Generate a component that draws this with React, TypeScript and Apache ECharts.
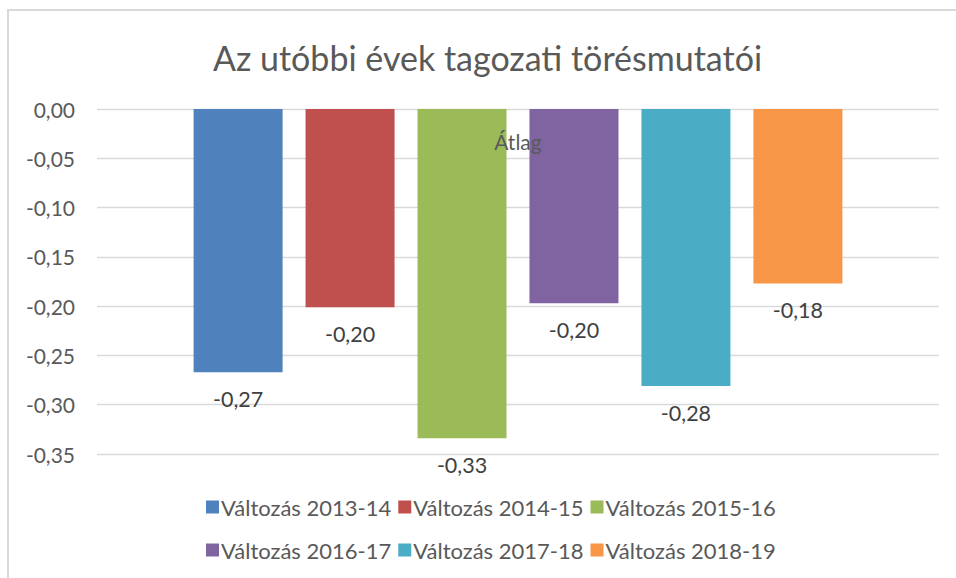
import React, { useEffect, useRef } from "react";
import * as echarts from "echarts";

const categories = ["Átlag"];
const seriesNames = [
  "Változás 2013-14",
  "Változás 2014-15",
  "Változás 2015-16",
  "Változás 2016-17",
  "Változás 2017-18",
  "Változás 2018-19",
];
const seriesValues = [-0.267, -0.201, -0.334, -0.197, -0.281, -0.177];
const seriesColors = ["#4f81bd", "#c0504d", "#9bbb59", "#8064a2", "#4bacc6", "#f79646"];
const titleText = "Az utóbbi évek tagozati törésmutatói";

const FONT = "Lato, 'Noto Sans', sans-serif";
const fmt = (v: number) => {
  const s = Math.abs(v) < 1e-9 ? "0,00" : v.toFixed(2).replace(".", ",");
  return s;
};

export default function App() {
  const ref = useRef<HTMLDivElement>(null);
  useEffect(() => {
    if (!ref.current) return;
    const chart = echarts.init(ref.current, null, { renderer: "svg" });
    const legendCommon = {
      orient: "horizontal" as const,
      itemWidth: 13,
      itemHeight: 13,
      itemGap: 7,
      icon: "rect",
      textStyle: {
        fontFamily: FONT,
        fontSize: 22,
        lineHeight: 22,
        color: "#595959",
        padding: [0, 0, 0, -3],
      },
      padding: 0,
    };
    chart.setOption({
      animation: false,
      backgroundColor: "#ffffff",
      graphic: [
        {
          type: "rect",
          shape: { x: 8, y: 10, width: 1200, height: 1000 },
          style: { fill: "none", stroke: "#d9d9d9", lineWidth: 2 },
          silent: true,
          z: -10,
        },
        {
          type: "text",
          x: 487.5,
          y: 57,
          style: {
            text: titleText,
            font: `34px ${FONT}`,
            fill: "#595959",
            textAlign: "center",
            textVerticalAlign: "middle",
          },
        },
      ],
      grid: { left: 97, right: 17, top: 109, bottom: 124, containLabel: false },
      xAxis: {
        type: "category",
        position: "top",
        data: categories,
        z: 10,
        axisLine: { show: false },
        axisTick: { show: false },
        axisLabel: {
          margin: -32,
          fontFamily: FONT,
          fontSize: 21,
          color: "#595959",
          verticalAlign: "middle",
          lineHeight: 22,
        },
        splitLine: { show: false },
      },
      yAxis: {
        type: "value",
        min: -0.35,
        max: 0,
        interval: 0.05,
        axisLine: { show: false },
        axisTick: { show: false },
        splitLine: { lineStyle: { color: "#d9d9d9", width: 1.3 } },
        axisLabel: {
          margin: 22,
          fontFamily: FONT,
          fontSize: 21,
          color: "#595959",
          formatter: (v: number) => fmt(v),
        },
      },
      legend: [
        { ...legendCommon, data: seriesNames.slice(0, 3), left: 206, top: 496 },
        { ...legendCommon, data: seriesNames.slice(3, 6), left: 206, top: 539 },
      ],
      series: seriesNames.map((name, i) => ({
        name,
        type: "bar",
        data: [seriesValues[i]],
        barWidth: 89,
        barGap: "25.8%",
        itemStyle: { color: seriesColors[i] },
        label: {
          show: true,
          position: "bottom",
          distance: 16,
          fontFamily: FONT,
          fontSize: 21.5,
          color: "#404040",
          formatter: (p: any) => fmt(p.value),
        },
      })),
    });
    return () => chart.dispose();
  }, []);
  return (
    <div
      ref={ref}
      style={{ position: "fixed", left: 0, top: 0, width: 956, height: 578 }}
    />
  );
}
